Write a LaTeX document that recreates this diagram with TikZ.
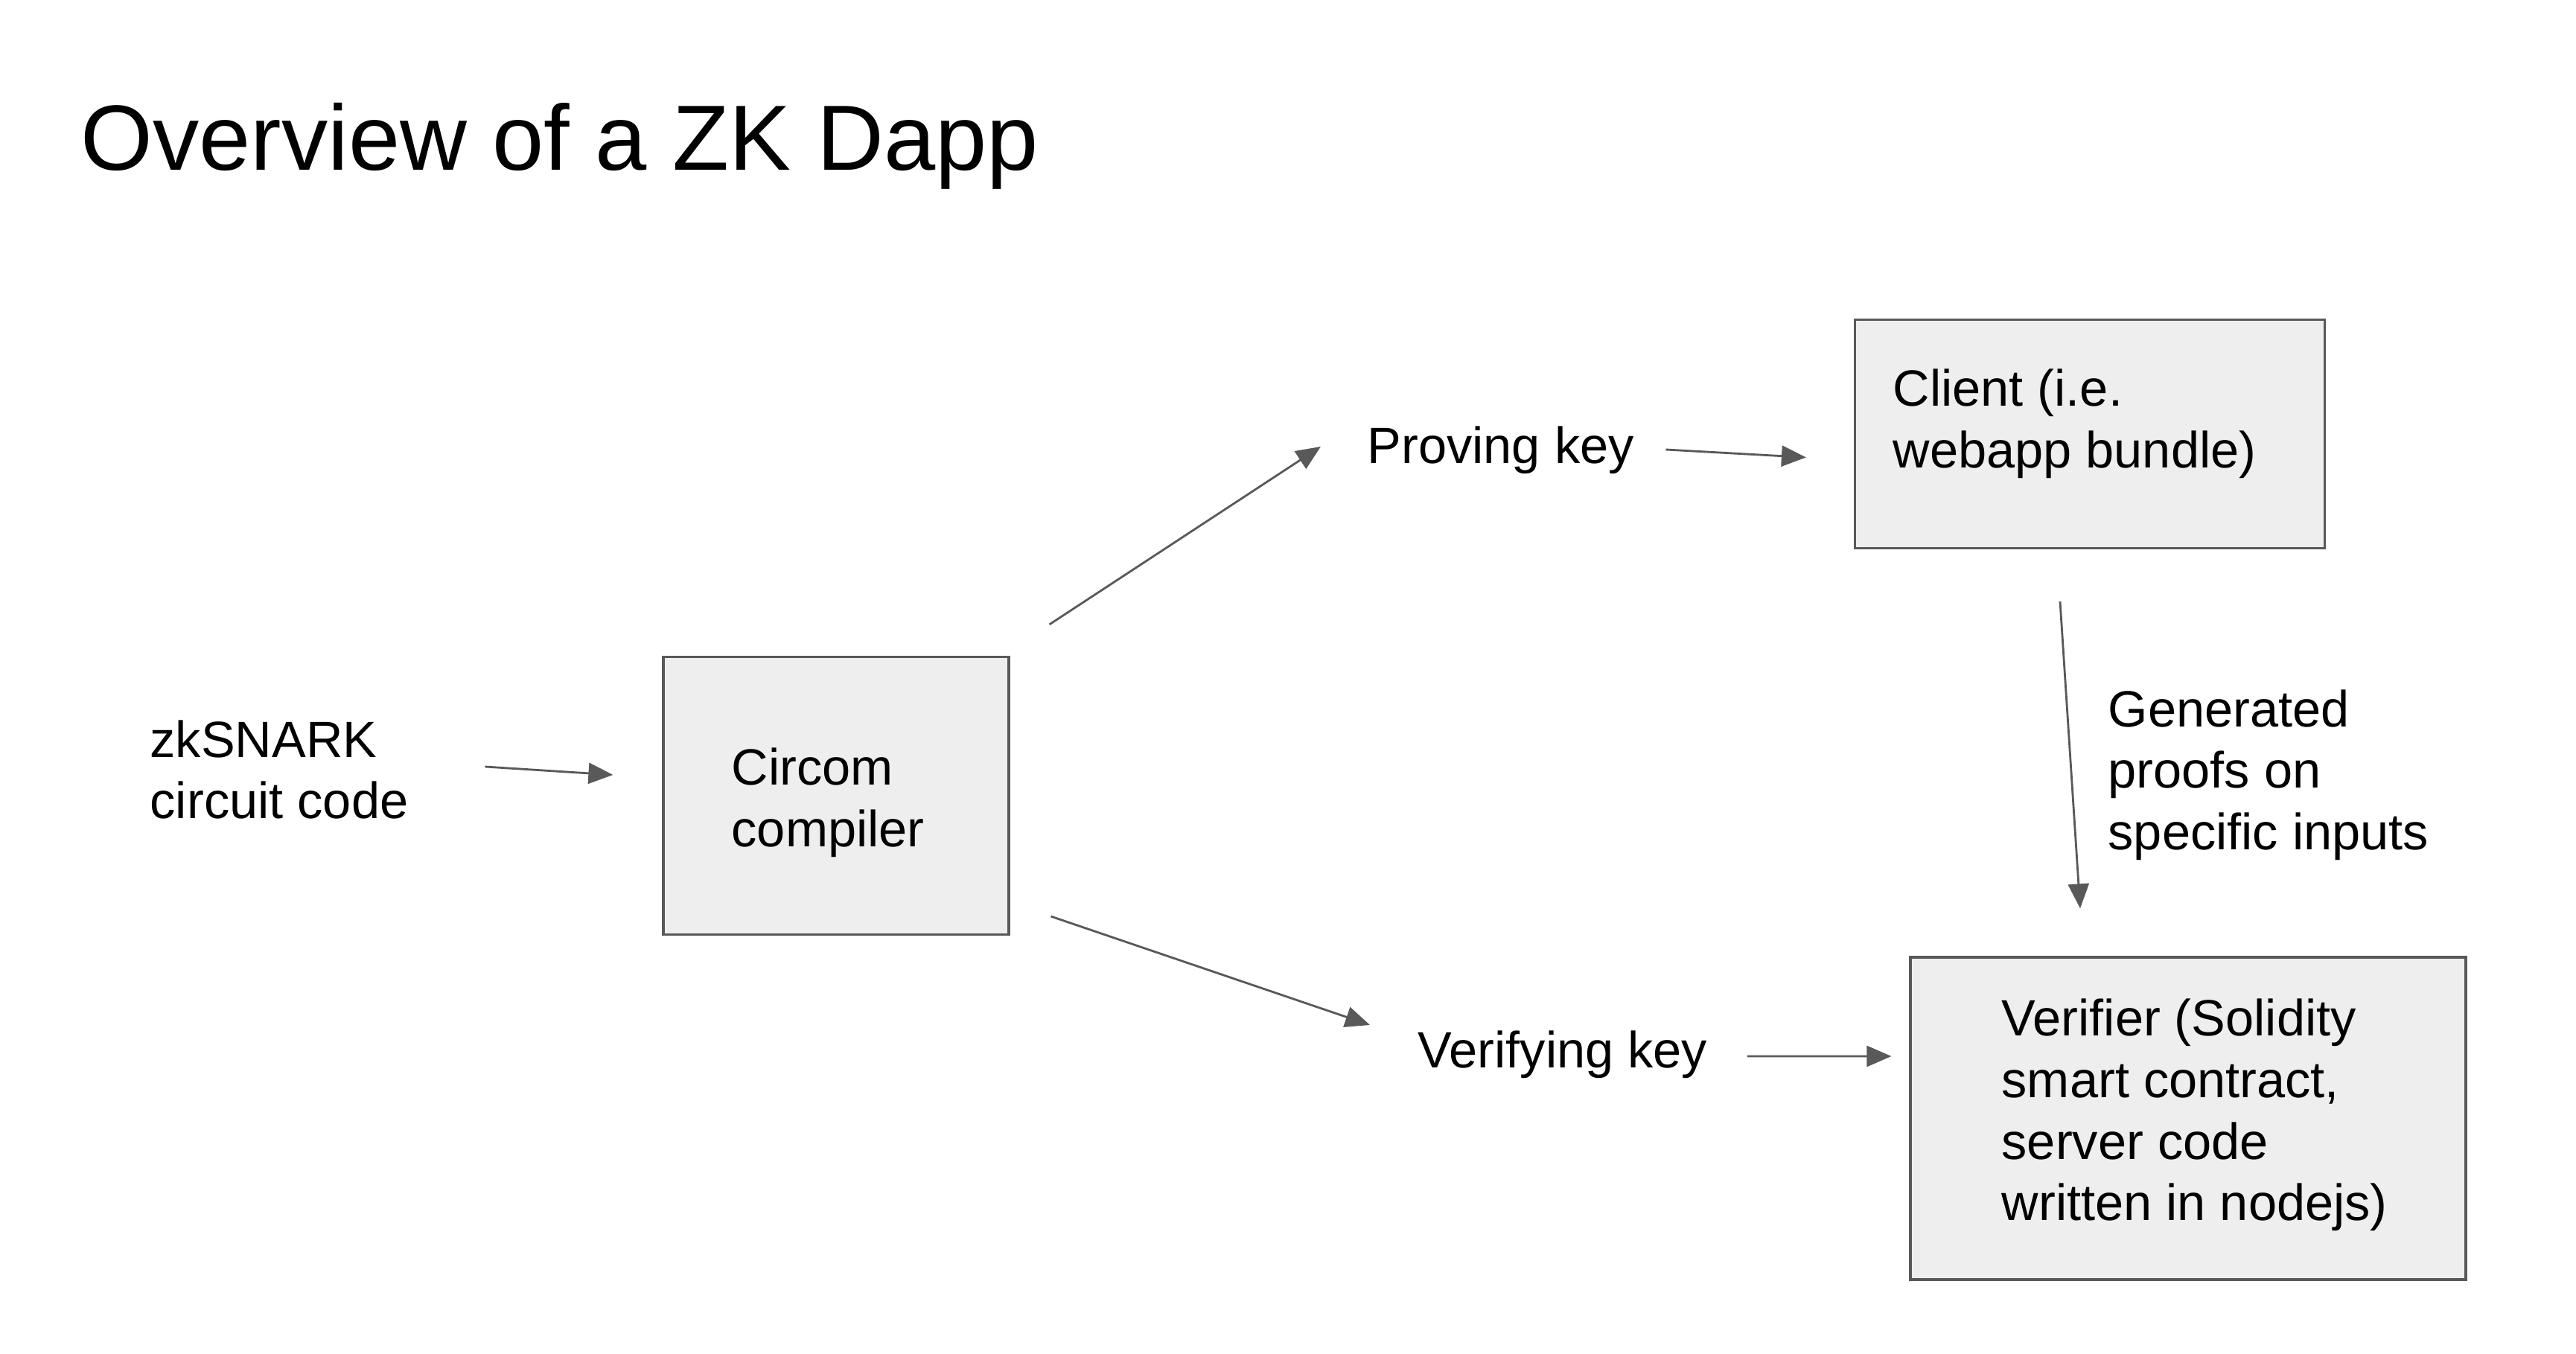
\documentclass[tikz,border=0pt]{standalone}
\usepackage{fontspec}
\setmainfont{Liberation Sans}
\usetikzlibrary{arrows.meta}
\definecolor{linegray}{HTML}{595959}
\definecolor{boxgray}{HTML}{EEEEEE}

\begin{document}
\begin{tikzpicture}[box/.style={draw=linegray, fill=boxgray, line width=0.9pt, inner sep=0pt},
                    words/.style={inner sep=0pt, anchor=west, align=left, font=\fontsize{19.5}{23.5}\selectfont},
                    flow/.style={draw=linegray, line width=0.8pt, -{Triangle[length=3.3mm, width=2.8mm]}}]
        \useasboundingbox (0,0) rectangle (34.6,18.18);
        \node[inner sep=0pt, anchor=base west, font=\fontsize{35.4}{42}\selectfont] (title) at (1.08,15.89) {Overview of a ZK Dapp};
        % boxes
        \node[box, minimum width=4.64cm, minimum height=3.73cm] (circom) at (11.23,7.49) {};
        \node[box, minimum width=6.31cm, minimum height=3.07cm] (client) at (28.07,12.35) {};
        \node[box, minimum width=7.46cm, minimum height=4.33cm] (verifier) at (29.39,3.155) {};
        % texts
        \node[words] (circuit) at (2.01,7.84) {zkSNARK\\circuit code};
        \node[words] (circomtext) at (9.82,7.40) {Circom\\compiler};
        \node[words] (prove) at (18.36,12.13) {Proving key};
        \node[words] (verify) at (19.04,4.01) {Verifying key};
        \node[words] (clienttext) at (25.42,12.49) {Client (i.e.\\webapp bundle)};
        \node[words] (proofs) at (28.31,7.77) {Generated\\proofs on\\specific inputs};
        \node[words] (verifiertext) at (26.88,3.20) {Verifier (Solidity\\smart contract,\\server code\\written in nodejs)};
        % arrows
        \draw[flow] ([shift={(-2.38,0.39)}]circom.west) -- ([shift={(-0.66,0.28)}]circom.west);
        \draw[flow] ([shift={(0.53,0.42)}]circom.north east) -- ([shift={(-0.62,0.05)}]prove.west);
        \draw[flow] ([shift={(0.42,0.01)}]prove.east) -- ([shift={(-0.64,-0.315)}]client.west);
        \draw[flow] ([shift={(-0.40,-0.70)}]client.south) -- ([shift={(-1.45,0.64)}]verifier.north);
        \draw[flow] ([shift={(0.55,0.26)}]circom.south east) -- ([shift={(-0.64,0.40)}]verify.west);
        \draw[flow] ([shift={(0.53,-0.02)}]verify.east) -- ([shift={(-0.24,0.835)}]verifier.west);
\end{tikzpicture}
\end{document}
